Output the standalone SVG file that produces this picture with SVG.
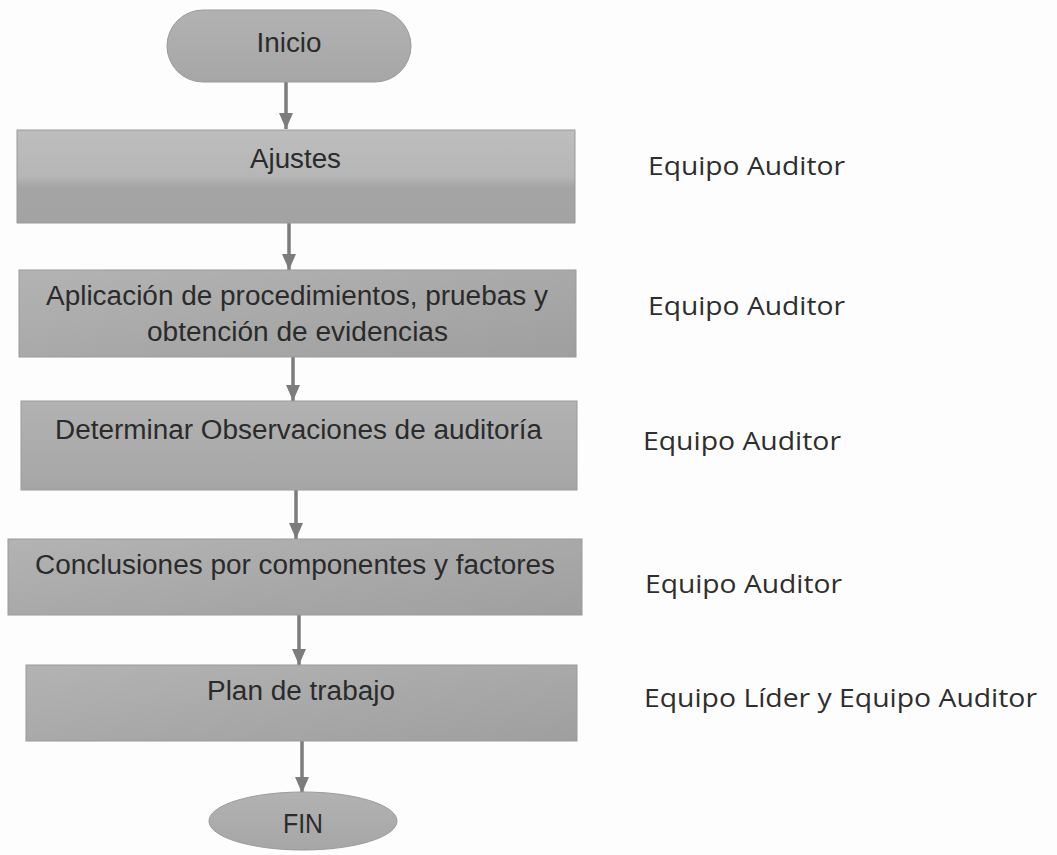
<svg xmlns="http://www.w3.org/2000/svg" width="1057" height="855" viewBox="0 0 1057 855">
<style>
.box{stroke:#9a9a9a;stroke-width:1}
.t{font-family:"Liberation Sans",Arial,sans-serif;font-size:27px;fill:#2b2b2b}
.r{font-family:"Open Sans","Noto Sans",sans-serif;font-size:26px;fill:#2e2e2e}
.conn line{stroke:#7c7c7c;stroke-width:3.5}
</style>
<defs>
<linearGradient id="g1" x1="0" y1="0" x2="0" y2="1">
<stop offset="0" stop-color="#bdbdbd"/>
<stop offset="0.5" stop-color="#b6b6b6"/>
<stop offset="0.62" stop-color="#a4a4a4"/>
<stop offset="1" stop-color="#a3a3a3"/>
</linearGradient>
<linearGradient id="g2" x1="0" y1="0" x2="1" y2="1">
<stop offset="0" stop-color="#b3b3b3"/>
<stop offset="1" stop-color="#9f9f9f"/>
</linearGradient>
<linearGradient id="g3" x1="0" y1="0" x2="0" y2="1">
<stop offset="0" stop-color="#b2b2b2"/>
<stop offset="1" stop-color="#a6a6a6"/>
</linearGradient>
<marker id="ah" viewBox="0 0 16 14" refX="16" refY="7" markerWidth="16" markerHeight="14" markerUnits="userSpaceOnUse" orient="auto">
<path d="M0,0 L16,7 L0,14 z" fill="#7c7c7c"/>
</marker>
</defs>
<rect width="1057" height="855" fill="#fdfdfd"/>
<g id="connectors" class="conn">
<line x1="286" y1="82" x2="286" y2="129" marker-end="url(#ah)"/>
<line x1="289" y1="223" x2="289" y2="270" marker-end="url(#ah)"/>
<line x1="293" y1="357" x2="293" y2="401" marker-end="url(#ah)"/>
<line x1="296" y1="490" x2="296" y2="539" marker-end="url(#ah)"/>
<line x1="299" y1="615" x2="299" y2="665" marker-end="url(#ah)"/>
<line x1="302" y1="741" x2="302" y2="793" marker-end="url(#ah)"/>
</g>
<g id="inicio">
<rect x="167" y="10" width="244" height="72" rx="36" ry="36" fill="url(#g3)" class="box"/>
<text class="t" x="289" y="52" text-anchor="middle" textLength="65" lengthAdjust="spacingAndGlyphs">Inicio</text>
</g>
<g id="ajustes">
<rect x="17" y="130" width="558" height="93" fill="url(#g1)" class="box"/>
<text class="t" x="250" y="168" textLength="91" lengthAdjust="spacingAndGlyphs">Ajustes</text>
</g>
<g id="aplicacion">
<rect x="19" y="270" width="557" height="87" fill="url(#g2)" class="box"/>
<text class="t" x="46" y="305" textLength="502" lengthAdjust="spacingAndGlyphs">Aplicación de procedimientos, pruebas y</text>
<text class="t" x="147" y="341" textLength="301" lengthAdjust="spacingAndGlyphs">obtención de evidencias</text>
</g>
<g id="determinar">
<rect x="21" y="401" width="556" height="89" fill="url(#g3)" class="box"/>
<text class="t" x="55" y="439" textLength="487" lengthAdjust="spacingAndGlyphs">Determinar Observaciones de auditoría</text>
</g>
<g id="conclusiones">
<rect x="8" y="539" width="574" height="76" fill="url(#g2)" class="box"/>
<text class="t" x="35" y="574" textLength="520" lengthAdjust="spacingAndGlyphs">Conclusiones por componentes y factores</text>
</g>
<g id="plan">
<rect x="26" y="665" width="551" height="76" fill="url(#g2)" class="box"/>
<text class="t" x="207" y="700" textLength="188" lengthAdjust="spacingAndGlyphs">Plan de trabajo</text>
</g>
<g id="fin">
<ellipse cx="303" cy="821" rx="94" ry="29" fill="url(#g3)" class="box"/>
<text class="t" x="283" y="833" textLength="40" lengthAdjust="spacingAndGlyphs">FIN</text>
</g>
<g id="responsables">
<text class="r" x="648" y="175" textLength="197" lengthAdjust="spacingAndGlyphs">Equipo Auditor</text>
<text class="r" x="648" y="315" textLength="197" lengthAdjust="spacingAndGlyphs">Equipo Auditor</text>
<text class="r" x="643" y="450" textLength="198" lengthAdjust="spacingAndGlyphs">Equipo Auditor</text>
<text class="r" x="645" y="593" textLength="197" lengthAdjust="spacingAndGlyphs">Equipo Auditor</text>
<text class="r" x="644" y="707" textLength="393" lengthAdjust="spacingAndGlyphs">Equipo Líder y Equipo Auditor</text>
</g>
</svg>
